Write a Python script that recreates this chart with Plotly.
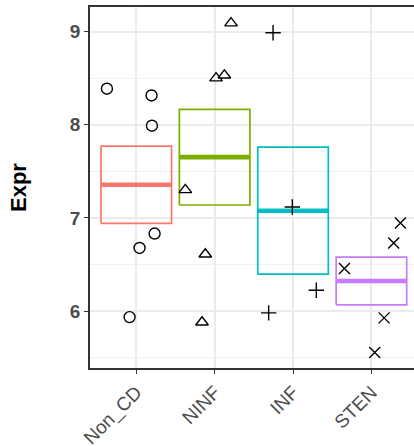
import numpy as np
import plotly.graph_objects as go

categories = ["Non_CD", "NINF", "INF", "STEN"]
colors = ["#F8766D", "#7CAE00", "#00BFC4", "#C77CFF"]
symbols = ["circle-open", "triangle-up-open", "cross-thin-open", "x-thin-open"]

# jittered points: (x offset from category centre, value)
non_cd_x = [-0.374, 0.195, 0.200, 0.234, 0.042, -0.085]
non_cd_y = [8.386, 8.314, 7.989, 6.832, 6.677, 5.935]
ninf_x = [-0.374, 0.209, 0.018, 0.124, -0.119, -0.161]
ninf_y = [7.300, 9.090, 8.500, 8.530, 6.610, 5.880]
inf_x = [-0.255, -0.009, 0.297, -0.311]
inf_y = [8.986, 7.117, 6.224, 5.981]
sten_x = [0.370, 0.284, -0.344, 0.162, 0.042]
sten_y = [6.945, 6.731, 6.457, 5.927, 5.556]

group_x = [non_cd_x, ninf_x, inf_x, sten_x]
group_y = [non_cd_y, ninf_y, inf_y, sten_y]

y_ticks = [6, 7, 8, 9]

fig = go.Figure()
half = 0.45
for i, (xs, ys) in enumerate(zip(group_x, group_y)):
    v = np.array(ys)
    m = v.mean()
    se = v.std(ddof=1) / np.sqrt(len(v))
    lo, hi = m - se, m + se
    fig.add_trace(go.Scatter(
        x=[i - half, i + half, i + half, i - half, i - half],
        y=[lo, lo, hi, hi, lo], mode="lines",
        line=dict(color=colors[i], width=1.7), hoverinfo="skip", showlegend=False))
    fig.add_trace(go.Scatter(
        x=[i - half, i + half], y=[m, m], mode="lines",
        line=dict(color=colors[i], width=4.6), hoverinfo="skip", showlegend=False))

for i, (xs, ys) in enumerate(zip(group_x, group_y)):
    fig.add_trace(go.Scatter(
        x=[i + dx for dx in xs], y=ys, mode="markers",
        marker=dict(symbol=symbols[i], size=11, color="black",
                    line=dict(color="black", width=1.4)),
        showlegend=False))

fig.update_layout(
    width=414, height=446,
    margin=dict(l=90, r=0, t=7, b=78),
    paper_bgcolor="white", plot_bgcolor="white",
    font=dict(family="Liberation Sans, Arial, sans-serif"),
    xaxis=dict(
        range=[-0.59, 3.543], tickvals=list(range(len(categories))),
        ticktext=categories, tickangle=-45,
        tickfont=dict(size=19, color="#4D4D4D"), automargin=False,
        showgrid=True, gridcolor="#EBEBEB", gridwidth=1.8,
        showline=True, linecolor="#333333", linewidth=1.8, mirror=True,
        ticks="outside", ticklen=4, tickcolor="#333333", tickwidth=1.4,
        zeroline=False),
    yaxis=dict(
        range=[5.389, 9.263], tickvals=y_ticks,
        ticktext=[f"<b>{t}</b>" for t in y_ticks],
        tickfont=dict(size=19, color="#4D4D4D"), automargin=False,
        showgrid=True, gridcolor="#EBEBEB", gridwidth=1.8,
        minor=dict(dtick=0.5, tick0=5.5, showgrid=True, gridcolor="#F0F0F0", gridwidth=1),
        showline=True, linecolor="#333333", linewidth=1.8,
        ticks="outside", ticklen=4, tickcolor="#333333", tickwidth=1.4,
        zeroline=False,
        title=dict(text="<b>Expr</b>", font=dict(size=22, color="black"), standoff=37)),
)

fig.write_html("out.html", config={"displayModeBar": False},
               post_script="document.body.style.margin='0';document.body.style.overflow='hidden';")
